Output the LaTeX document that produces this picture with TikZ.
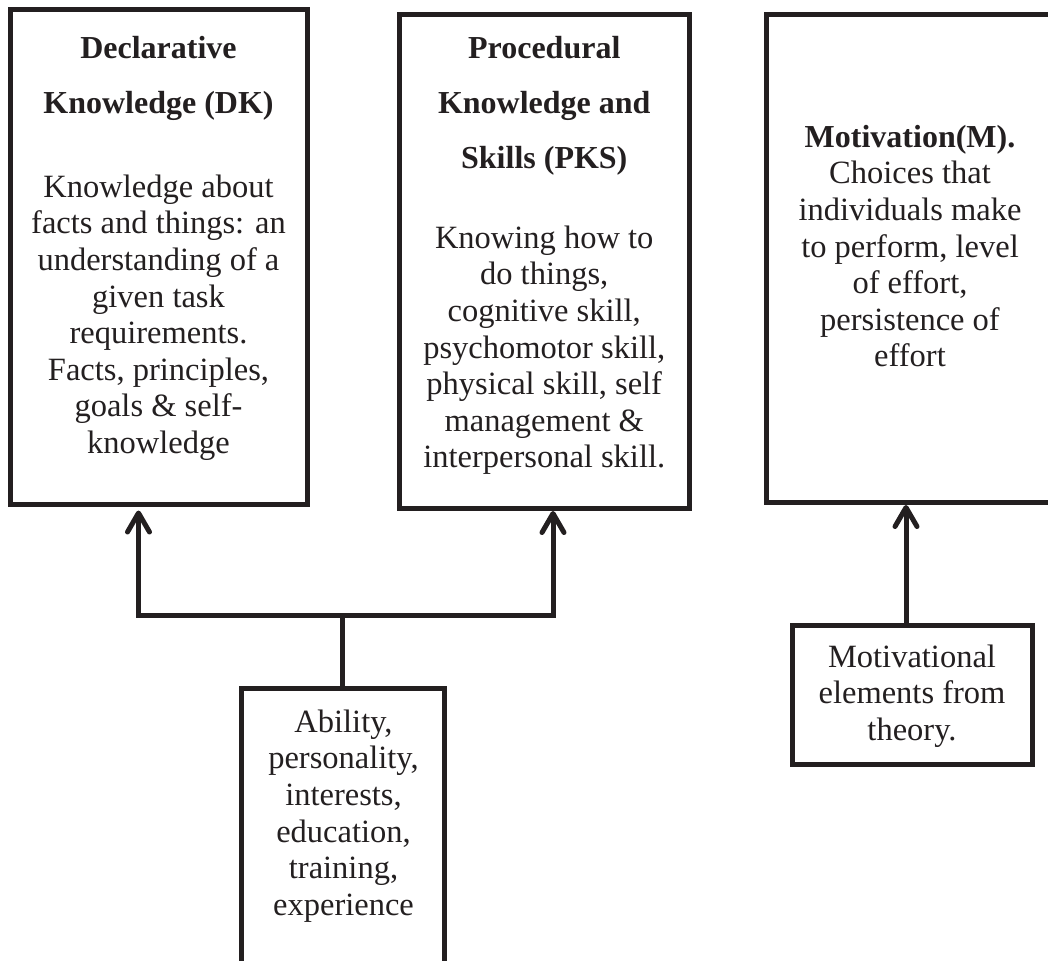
\documentclass[tikz,border=0pt]{standalone}
\usepackage{fontspec}
\setmainfont{Liberation Serif}
\usetikzlibrary{arrows.meta}
\definecolor{ink}{HTML}{231F20}
% invisible rule fixing the height of the first line of each text block
\newcommand\firstline{\rule{0pt}{24pt}}

\begin{document}
\begin{tikzpicture}[x=1pt,y=-1pt,
  box/.style={draw=ink, line width=5pt, rectangle, inner sep=0pt},
  head/.style={text=ink, font=\bfseries\fontsize{32}{55}\selectfont, align=center, inner sep=0pt, anchor=north},
  body/.style={text=ink, font=\fontsize{32.5}{36.6}\selectfont, align=center, inner sep=0pt, anchor=north},
  conn/.style={draw=ink, line width=5pt},
  arr/.style={conn, -{Straight Barb[length=19pt, width=22pt, round]}},
]
\useasboundingbox (0,0) rectangle (1048,960);
\clip (0,0) rectangle (1048,960);

% boxes
\node[box, minimum width=297pt, minimum height=494.5pt] (dk) at (158.5,256.75) {};
\node[box, minimum width=289.5pt, minimum height=493.5pt] (pks) at (544.25,261.75) {};
\node[box, minimum width=294pt, minimum height=488pt] (m) at (913,258.5) {};
\node[box, minimum width=202.3pt, minimum height=302pt] (ab) at (342.85,839) {};
\node[box, minimum width=240pt, minimum height=139pt] (mot) at (912,694.5) {};

% texts
\node[head] (dkh) at (158.5,34) {\firstline Declarative\\Knowledge (DK)};
\node[body] (dkb) at (158.5,173) {\firstline Knowledge about\\facts and things: an\\understanding of a\\given task\\requirements.\\Facts, principles,\\goals \& self-\\knowledge};

\node[head] (pksh) at (544.25,34) {\firstline Procedural\\Knowledge and\\Skills (PKS)};
\node[body] (pksb) at (544.25,224) {\firstline Knowing how to\\do things,\\cognitive skill,\\psychomotor skill,\\physical skill, self\\management \&\\interpersonal skill.};

\node[body] (mb) at (910,123) {\firstline\textbf{\fontsize{32}{36.6}\selectfont Motivation(M).}\\Choices that\\individuals make\\to perform, level\\of effort,\\persistence of\\effort};

\node[body] (abt) at (343.5,708) {\firstline Ability,\\personality,\\interests,\\education,\\training,\\experience};

\node[body] (mott) at (912,643) {\firstline Motivational\\elements from\\theory.};

% connectors
\coordinate (split) at (ab.north |- 0,615.5);
\draw[conn] (ab.north) -- (split);
\draw[arr, shorten >=4pt] (split) -| ([xshift=-20pt]dk.south);
\draw[arr] (split) -| ([xshift=8.75pt]pks.south);

\path ([xshift=-6pt]mot.north) coordinate (mfoot);
\draw[arr] (mfoot) -- (mfoot |- m.south);
\end{tikzpicture}
\end{document}
